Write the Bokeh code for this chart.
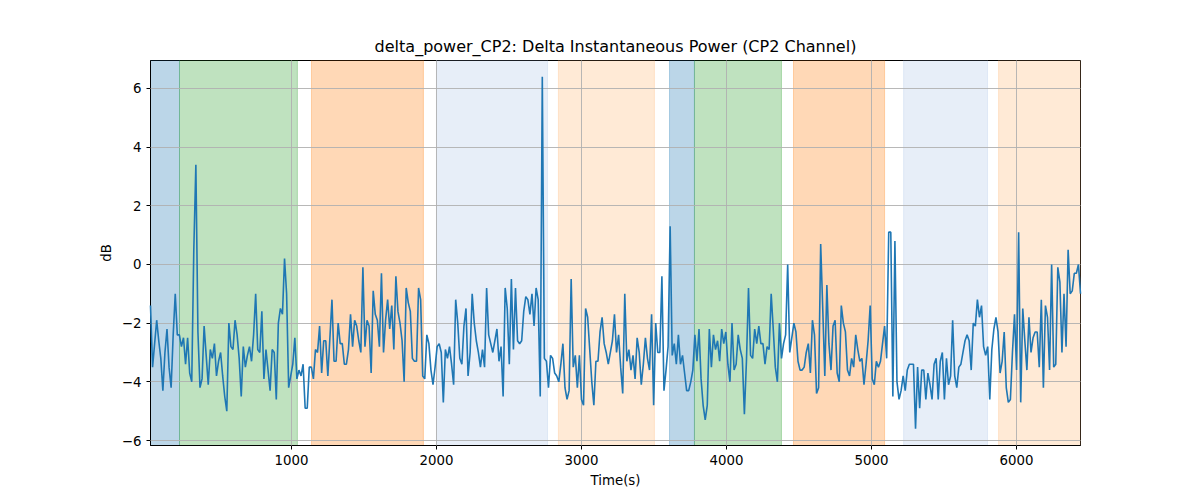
import numpy as np
from bokeh.plotting import figure
from bokeh.models import Range1d, FixedTicker
from bokeh.embed import file_html
from bokeh.resources import INLINE

T_START, T_END = 28, 6441
values = [
-1.4,-3.5,-2.7,-1.9,-2.6,-3.2,-4.3,-3.0,-2.2,-3.5,-4.2,-2.4,-1.0,-2.4,-2.4,-2.8,-2.5,-3.4,-2.5,-3.7,-4.0,0.5,3.4,-2.3,-4.2,-3.9,-2.1,-3.1,-4.1,-2.9,-3.2,-2.7,-3.8,-3.3,-3.0,-3.8,-4.5,-5.0,-2.0,-2.8,-2.9,-1.9,-2.4,-3.2,-4.5,-2.8,-3.5,-3.1,-2.8,-3.3,-2.4,-1.0,-2.9,-3.0,-1.6,-3.9,-2.9,-3.6,-4.3,-2.9,-3.0,-4.6,-2.0,-1.5,-1.7,0.2,-1.0,-4.2,
-3.8,-3.4,-2.5,-3.9,-3.6,-3.8,-3.4,-4.9,-4.9,-3.5,-3.5,-3.9,-2.9,-3.0,-2.1,-3.7,-2.6,-2.6,-3.8,-2.5,-1.2,-3.3,-3.3,-2.0,-2.7,-2.7,-3.4,-3.4,-2.9,-1.7,-2.8,-1.9,-2.1,-2.6,-3.0,-0.1,-2.8,-1.9,-2.1,-3.7,-0.9,-1.7,-1.9,-2.8,-0.3,-3.0,-1.9,-1.2,-2.2,-1.4,-2.9,-0.4,-1.6,-2.0,-2.6,-4.0,-0.8,-1.3,-1.6,-3.2,-3.3,-3.3,
-0.8,-1.2,-3.8,-3.9,-2.4,-2.7,-3.6,-4.1,-3.5,-2.8,-2.7,-3.0,-4.7,-2.9,-3.2,-2.8,-3.4,-4.1,-1.2,-2.0,-3.2,-3.4,-2.1,-1.5,-3.8,-3.0,-1.0,-2.0,-2.6,-3.0,-3.5,-2.9,-3.5,-0.8,-2.4,-2.7,-3.0,-2.6,-2.2,-3.3,-2.8,-4.5,-0.8,-1.5,-3.4,-0.5,-2.9,-0.8,-2.6,-2.7,-2.6,-1.6,-1.1,-1.2,-1.7,-1.0,-2.1,-0.8,-1.2,-4.5,6.4,
-3.2,-3.3,-4.2,-3.1,-3.2,-3.7,-3.8,-4.0,-3.4,-2.7,-4.2,-4.6,-4.3,-0.5,-3.5,-3.1,-4.2,-3.1,-4.6,-4.8,-1.5,-1.8,-2.9,-4.0,-4.8,-3.3,-3.3,-2.3,-1.8,-2.7,-3.0,-3.4,-3.0,-2.6,-1.7,-3.0,-2.4,-3.5,-4.4,-1.0,-3.3,-2.9,-3.6,-3.1,-3.9,-2.5,-3.0,-4.1,
-3.4,-2.5,-3.2,-3.6,-1.7,-4.8,-2.0,-3.0,-3.0,-0.4,-4.3,-3.6,-2.8,1.3,-3.1,-2.7,-3.4,-2.4,-3.4,-3.1,-3.7,-4.3,-4.3,-4.0,-3.6,-2.4,-3.3,-2.2,-3.9,-4.8,-5.3,-4.8,-2.2,-3.5,-2.4,-2.9,-2.6,-3.3,-2.2,-2.7,-2.3,-3.4,-4.0,-2.0,-3.6,-3.4,-2.4,-2.9,-3.2,-5.1,-3.3,-0.8,-3.1,-3.2,-2.2,-2.7,-2.1,-2.7,-2.7,-3.4,-2.8,-2.9,-1.0,-2.2,-3.5,-4.0,-2.0,-3.2,-2.7,-2.4,0.0,-3.0,-2.5,-2.0,
-2.3,-3.3,-3.6,-3.6,-3.5,-3.0,-2.7,-3.7,-1.9,-2.4,-4.4,-4.2,0.7,-1.5,-3.8,-0.7,-2.7,-3.6,-2.1,-1.9,-3.7,-4.0,-1.4,-2.0,-2.3,-3.6,-3.8,-3.2,-3.5,-2.4,-2.9,-3.3,-3.2,-4.1,-3.4,-2.6,
-1.4,-3.9,-4.1,-3.3,-3.5,-3.3,-2.7,-2.1,-3.2,1.1,1.1,-4.5,0.8,-4.0,-4.6,-4.3,-3.8,-4.3,-3.6,-3.4,-3.4,-3.4,-5.6,-3.5,-4.9,-3.6,-3.6,-4.6,-3.7,-4.1,-4.6,-3.4,-3.2,-4.6,-3.3,-3.0,-4.6,-3.2,-4.1,-3.8,-1.9,-3.8,-4.2,-3.5,-3.4,-3.0,-2.6,-2.4,-2.6,-3.6,-2.0,-2.1,-1.2,-1.8,-1.4,-2.8,-3.1,-2.8,-4.6,-2.9,-2.2,-1.8,-2.3,-3.7,-3.3,-2.3,-4.2,-4.7,-4.6,-3.0,-1.7,-3.6,1.1,-4.7,-1.5,-2.6,-3.6,-1.8,-3.0,-2.5,-2.3,-2.3,-3.5,-1.2,-4.2,-1.4,-1.8,-3.6,0.0,-3.5,-3.4,-0.1,-0.6,-3.0,-1.0,-2.8,0.5,-1.0,-0.9,-0.3,-0.3,0.0,-1.0,
]
time = np.linspace(T_START, T_END, len(values))

span_left = [28, 228, 1138, 2000, 2841, 3607, 3779, 4462, 5221, 5876]
span_right = [228, 1041, 1910, 2766, 3503, 3779, 4379, 5090, 5800, 6441]
span_colors = ["#1f77b4", "#2ca02c", "#ff7f0e", "#aec7e8", "#ffbb78",
               "#1f77b4", "#2ca02c", "#ff7f0e", "#aec7e8", "#ffbb78"]

p = figure(width=1200, height=500, output_backend="svg", toolbar_location=None,
           x_range=Range1d(T_START, T_END), y_range=Range1d(-6.17, 6.95),
           min_border_left=150, min_border_right=120, min_border_top=60, min_border_bottom=55,
           title="delta_power_CP2: Delta Instantaneous Power (CP2 Channel)")
p.title.align = "center"
p.title.text_font = "DejaVu Sans"
p.title.text_font_size = "12pt"
p.title.text_font_style = "normal"
p.title.text_color = "black"

p.quad(left=span_left, right=span_right, bottom=-100, top=100,
       fill_color=span_colors, fill_alpha=0.3, line_color=span_colors, line_alpha=0.3)
r = p.line(time, values, line_color="#1f77b4", line_width=1.6)
r.level = "overlay"

for g in (p.xgrid, p.ygrid):
    g.grid_line_color = "#b0b0b0"
    g.grid_line_width = 0.9
    g.level = "annotation"

p.xaxis.ticker = FixedTicker(ticks=[1000, 2000, 3000, 4000, 5000, 6000])
p.yaxis.ticker = FixedTicker(ticks=[-6, -4, -2, 0, 2, 4, 6])
p.xaxis.axis_label = "Time(s)"
p.yaxis.axis_label = "dB"
for ax in (p.xaxis, p.yaxis):
    ax.axis_label_text_font = "DejaVu Sans"
    ax.axis_label_text_font_size = "10pt"
    ax.axis_label_text_font_style = "normal"
    ax.axis_label_text_color = "black"
    ax.major_label_text_font = "DejaVu Sans"
    ax.major_label_text_font_size = "10pt"
    ax.major_label_text_color = "black"
    ax.minor_tick_line_color = None
    ax.major_tick_out = 4
    ax.major_tick_in = 0
    ax.axis_line_color = "black"
p.outline_line_color = "black"
p.outline_line_alpha = 1

open("out.html", "w").write(file_html(p, INLINE))
